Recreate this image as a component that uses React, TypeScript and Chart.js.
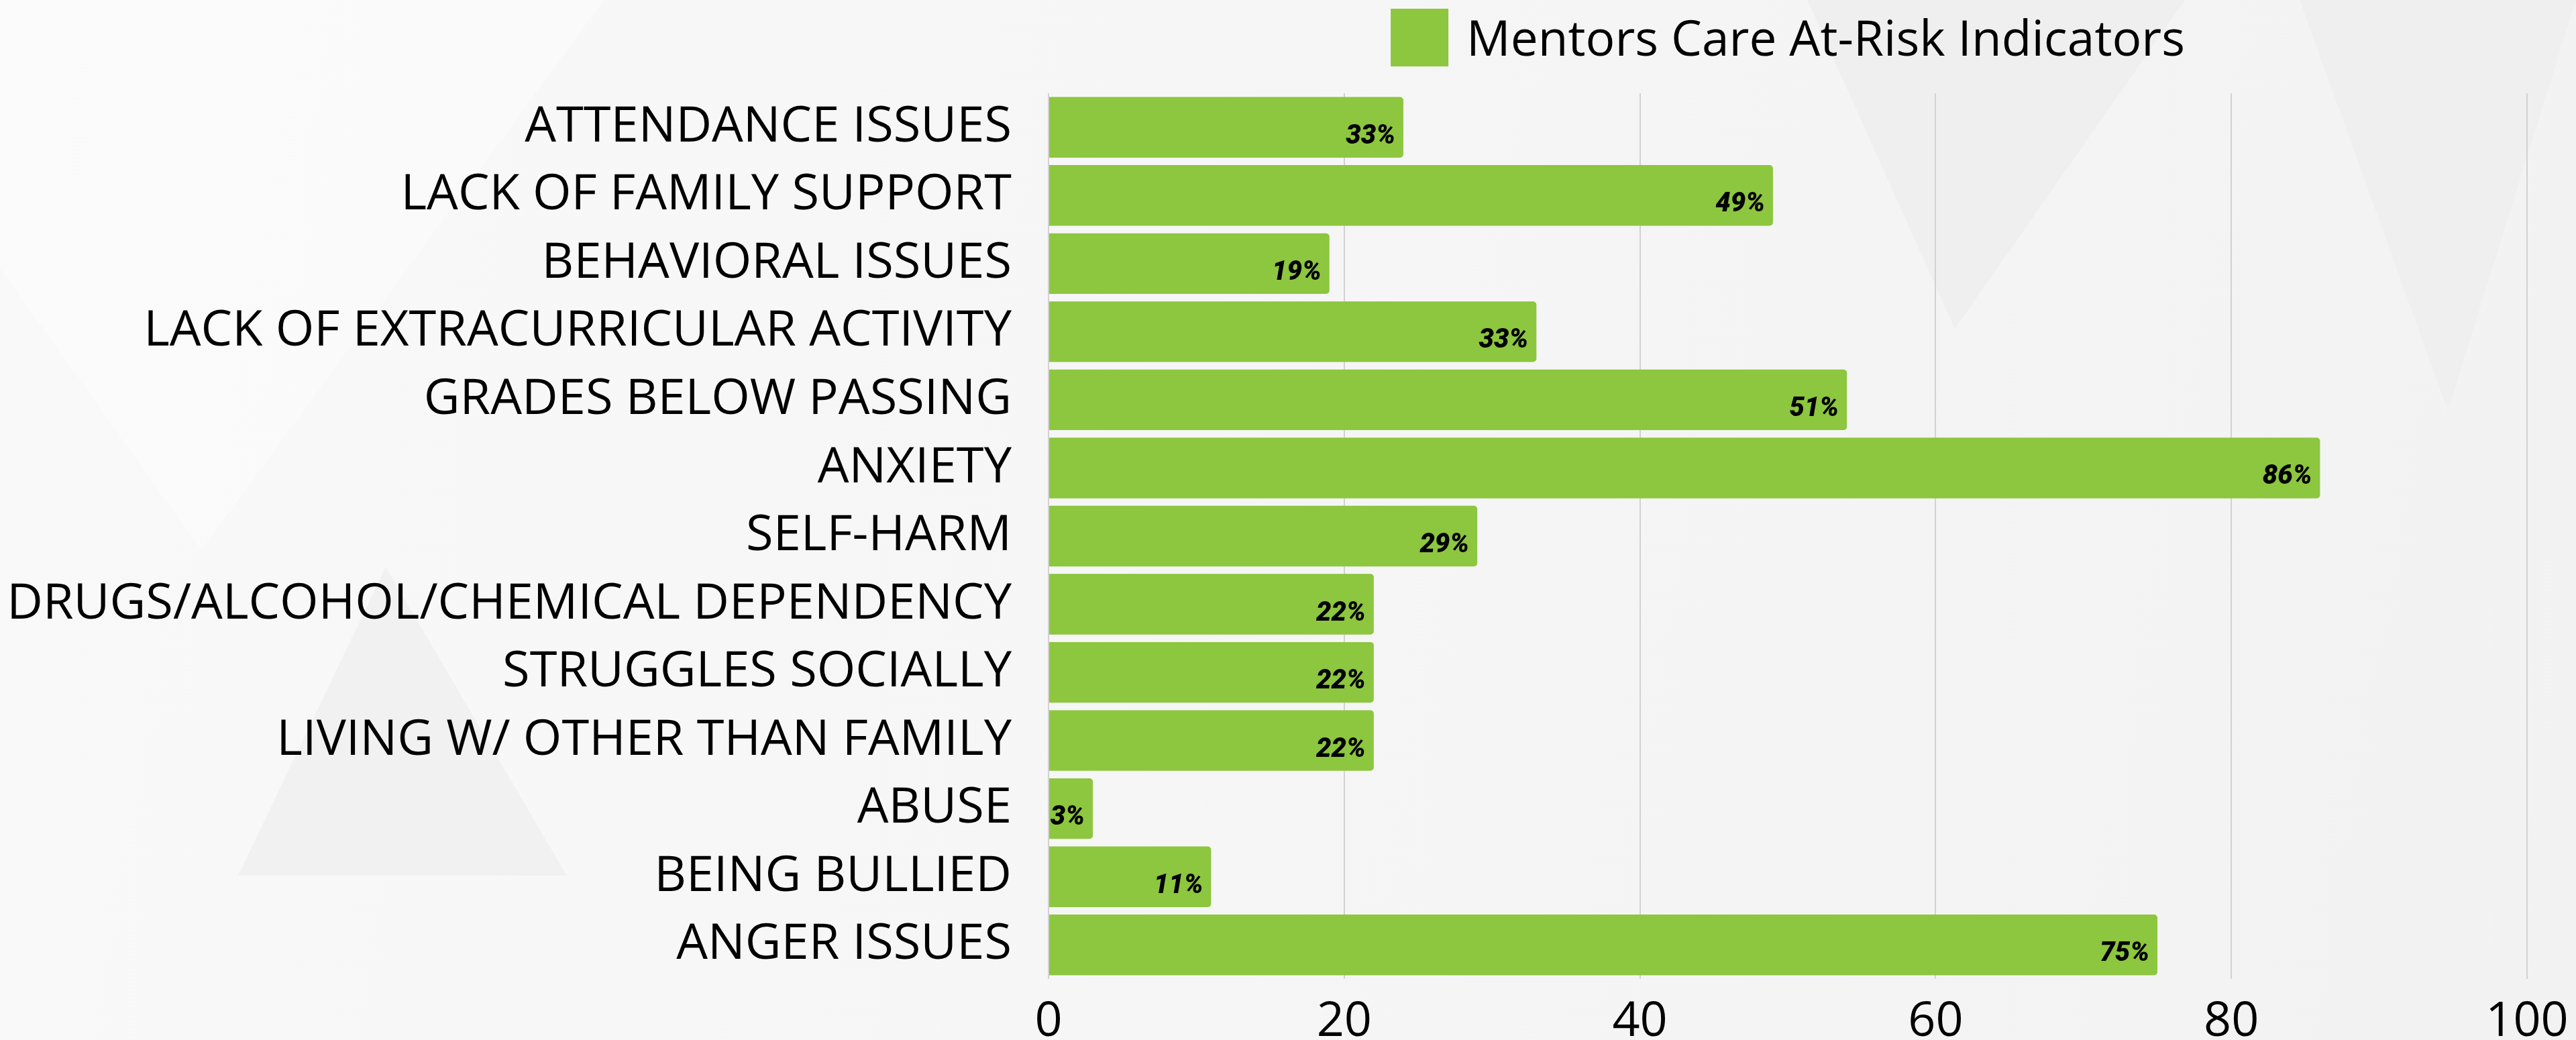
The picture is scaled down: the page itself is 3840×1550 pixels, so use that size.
import React, { useEffect, useRef } from "react";
import { Chart, registerables } from "chart.js";

Chart.register(...registerables);

const categories = [
  "ATTENDANCE ISSUES",
  "LACK OF FAMILY SUPPORT",
  "BEHAVIORAL ISSUES",
  "LACK OF EXTRACURRICULAR ACTIVITY",
  "GRADES BELOW PASSING",
  "ANXIETY",
  "SELF-HARM",
  "DRUGS/ALCOHOL/CHEMICAL DEPENDENCY",
  "STRUGGLES SOCIALLY",
  "LIVING W/ OTHER THAN FAMILY",
  "ABUSE",
  "BEING BULLIED",
  "ANGER ISSUES",
];

const values = [24, 49, 19, 33, 54, 86, 29, 22, 22, 22, 3, 11, 75];

const valueLabels = ["33%", "49%", "19%", "33%", "51%", "86%", "29%", "22%", "22%", "22%", "3%", "11%", "75%"];

const seriesName = "Mentors Care At-Risk Indicators";

const xMin = 0;
const xMax = 100;
const xStep = 20;

const barColor = "#8dc63f";
const FONT = "'Open Sans', 'Noto Sans', sans-serif";

const CANVAS_W = 3840;
const CANVAS_H = 1550;

export default function App() {
  const ref = useRef<HTMLCanvasElement | null>(null);

  useEffect(() => {
    document.body.style.margin = "0";
    const canvas = ref.current;
    if (!canvas) return;

    const barLabelPlugin = {
      id: "barLabels",
      afterDatasetsDraw(chart: any) {
        const ctx = chart.ctx;
        const meta = chart.getDatasetMeta(0);
        ctx.save();
        ctx.font = "italic 900 40px Roboto, sans-serif";
        ctx.fillStyle = "#000";
        ctx.textAlign = "right";
        ctx.textBaseline = "middle";
        meta.data.forEach((bar: any, i: number) => {
          ctx.fillText(valueLabels[i], bar.x - 12, bar.y + 14);
        });
        ctx.restore();
      },
    };

    const legendPlugin = {
      id: "areaLegend",
      afterDraw(chart: any) {
        const { ctx, chartArea } = chart;
        const name = chart.data.datasets[0].label as string;
        ctx.save();
        ctx.font = `400 73px ${FONT}`;
        const tw = ctx.measureText(name).width;
        const box = 86;
        const gap = 27;
        const total = box + gap + tw;
        const cx = (chartArea.left + chartArea.right) / 2;
        const x0 = cx - total / 2;
        ctx.fillStyle = chart.data.datasets[0].backgroundColor;
        ctx.fillRect(x0, 13, box, 86);
        ctx.fillStyle = "#000";
        ctx.textAlign = "left";
        ctx.textBaseline = "alphabetic";
        ctx.fillText(name, x0 + box + gap, 83);
        ctx.restore();
      },
    };

    const chart = new Chart(canvas, {
      type: "bar",
      data: {
        labels: categories,
        datasets: [
          {
            label: seriesName,
            data: values,
            backgroundColor: barColor,
            borderWidth: 0,
            borderRadius: 5,
            borderSkipped: "start",
            barPercentage: 0.89,
            categoryPercentage: 1,
          },
        ],
      },
      options: {
        indexAxis: "y",
        animation: false,
        responsive: false,
        maintainAspectRatio: false,
        devicePixelRatio: 1,
        layout: { padding: { top: 139, right: 73, bottom: 0, left: 0 } },
        plugins: {
          legend: { display: false },
          tooltip: { enabled: false },
        },
        scales: {
          x: {
            min: xMin,
            max: xMax,
            ticks: {
              stepSize: xStep,
              color: "#000",
              font: { family: FONT, size: 72, weight: "400" },
              padding: 21,
            },
            grid: { color: "#d2d2d2", lineWidth: 2, drawTicks: false },
            border: { display: false },
            afterFit: (scale: any) => {
              scale.height = 91;
              scale.paddingLeft = 0;
              scale.paddingRight = 0;
            },
          },
          y: {
            ticks: {
              color: "#000",
              font: { family: FONT, size: 74, weight: "400" },
              padding: 55,
              autoSkip: false,
            },
            grid: { display: false, drawTicks: false },
            border: { display: false },
            afterFit: (scale: any) => {
              scale.width = 1563;
              scale.paddingTop = 0;
              scale.paddingBottom = 0;
            },
          },
        },
      },
      plugins: [barLabelPlugin, legendPlugin],
    });

    return () => chart.destroy();
  }, []);

  return (
    <div
      style={{
        position: "relative",
        width: 3840,
        height: 1550,
        overflow: "hidden",
        background: "linear-gradient(100deg, #f9f9f9 0%, #f6f6f6 45%, #f2f2f2 100%)",
      }}
    >
      <svg
        width={3840}
        height={1550}
        style={{ position: "absolute", left: 0, top: 0 }}
      >
        <polygon points="2694,0 3257,0 2914,490" fill="#efefef" />
        <polygon points="3428,0 3840,0 3649,612" fill="#efefef" />
        <polygon points="575,845 355,1305 845,1305" fill="#f1f1f1" />
        <polygon points="0,0 900,0 300,820 0,400" fill="#fbfbfb" opacity="0.6" />
      </svg>
      <canvas
        ref={ref}
        width={CANVAS_W}
        height={CANVAS_H}
        style={{ position: "absolute", left: 0, top: 0, width: CANVAS_W, height: CANVAS_H }}
      />
    </div>
  );
}
